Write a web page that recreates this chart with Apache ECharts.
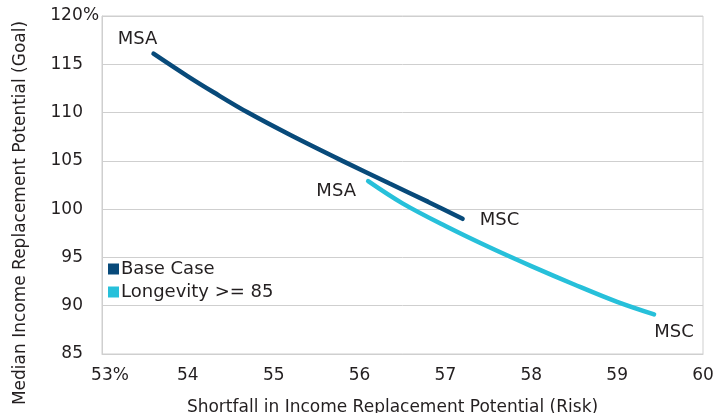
<!DOCTYPE html>
<html>
<head>
<meta charset="utf-8">
<script src="https://cdn.jsdelivr.net/npm/echarts@6/dist/echarts.min.js"></script>
<style>html,body{margin:0;padding:0;background:#fff;}#c{width:724px;height:413px;}</style>
</head>
<body>
<div id="c"></div>
<script>
// Data
const baseX = [53.6, 54.0, 54.3, 54.7, 55.2, 55.8, 56.35, 56.8, 57.2];
const baseY = [116.1, 113.75, 112.1, 110.0, 107.65, 105.0, 102.65, 100.75, 99.0];
const longX = [56.1, 56.5, 57.0, 57.5, 58.0, 58.5, 59.0, 59.43];
const longY = [102.9, 100.6, 98.25, 96.1, 94.1, 92.2, 90.4, 89.1];
const seriesNames = ['Base Case', 'Longevity >= 85'];
const xTicks = [53, 54, 55, 56, 57, 58, 59, 60];
const yTicks = [85, 90, 95, 100, 105, 110, 115, 120];

const FONT = 'DejaVu Sans';
const TXT = '#231f20';
const GRID = '#cfcfcf';
const C1 = '#084a7a';
const C2 = '#27c0da';

function pairs(xs, ys) { return xs.map((x, i) => [x, ys[i]]); }
function endLabel(pt, text, off) {
  return { coord: pt, value: text, label: { show: true, position: 'inside', formatter: text, offset: off, color: TXT, fontFamily: FONT, fontSize: 18 } };
}
const baseData = pairs(baseX, baseY);
const longData = pairs(longX, longY);
const tickFont = { fontFamily: FONT, fontSize: 17, color: TXT };

const chart = echarts.init(document.getElementById('c'), null, { renderer: 'canvas' });
chart.setOption({
  animation: false,
  backgroundColor: '#fff',
  grid: { left: 102, right: 21, top: 16, bottom: 59, show: true, borderColor: GRID, borderWidth: 1, containLabel: false, outerBoundsMode: 'none' },
  legend: {
    orient: 'vertical', left: 103, top: 255, icon: 'rect', itemWidth: 11, itemHeight: 11, itemGap: 5,
    textStyle: { color: TXT, fontFamily: FONT, fontSize: 18, padding: [0, 0, 0, -3] },
    data: seriesNames
  },
  xAxis: {
    type: 'value', min: xTicks[0], max: xTicks[xTicks.length - 1], interval: 1,
    name: 'Shortfall in Income Replacement Potential (Risk)', nameLocation: 'middle', nameGap: 45,
    nameTextStyle: { color: TXT, fontFamily: FONT, fontSize: 17, padding: [0, 20, 0, 0] },
    axisLine: { show: true, lineStyle: { color: GRID } }, axisTick: { show: false }, splitLine: { show: false },
    axisLabel: {
      margin: 13, color: TXT, fontFamily: FONT, fontSize: 17,
      formatter: v => v === xTicks[0] ? '{q|}{n|' + v + '}{p|%}' : String(v),
      rich: { q: Object.assign({ width: 16 }, tickFont), n: tickFont, p: tickFont }
    }
  },
  yAxis: {
    type: 'value', min: yTicks[0], max: yTicks[yTicks.length - 1], interval: 5,
    name: 'Median Income Replacement Potential (Goal)', nameLocation: 'middle', nameGap: 73,
    nameTextStyle: { color: TXT, fontFamily: FONT, fontSize: 17, padding: [0, 56, 0, 0] },
    axisLine: { show: true, lineStyle: { color: GRID } }, axisTick: { show: false },
    splitLine: { show: true, lineStyle: { color: GRID, width: 1 } },
    axisLabel: {
      margin: 52, align: 'left', color: TXT, fontFamily: FONT, fontSize: 17,
      formatter: v => '{n|' + v + '}' + (v === yTicks[yTicks.length - 1] ? '{p|%}' : ''),
      rich: { n: Object.assign({ width: 33, align: 'right' }, tickFont), p: tickFont }
    }
  },
  series: [
    {
      name: seriesNames[0], type: 'line', data: baseData, smooth: 0.35, showSymbol: false, symbol: 'none',
      lineStyle: { color: C1, width: 4.5, cap: 'round' }, itemStyle: { color: C1 },
      markPoint: { symbol: 'circle', symbolSize: 1, itemStyle: { color: 'rgba(0,0,0,0)' },
        data: [endLabel(baseData[0], 'MSA', [-16, -14]), endLabel(baseData[baseData.length - 1], 'MSC', [37, 2])] }
    },
    {
      name: seriesNames[1], type: 'line', data: longData, smooth: 0.35, showSymbol: false, symbol: 'none',
      lineStyle: { color: C2, width: 4.5, cap: 'round' }, itemStyle: { color: C2 },
      markPoint: { symbol: 'circle', symbolSize: 1, itemStyle: { color: 'rgba(0,0,0,0)' },
        data: [endLabel(longData[0], 'MSA', [-32, 10]), endLabel(longData[longData.length - 1], 'MSC', [20, 18])] }
    }
  ]
});
</script>
</body>
</html>
